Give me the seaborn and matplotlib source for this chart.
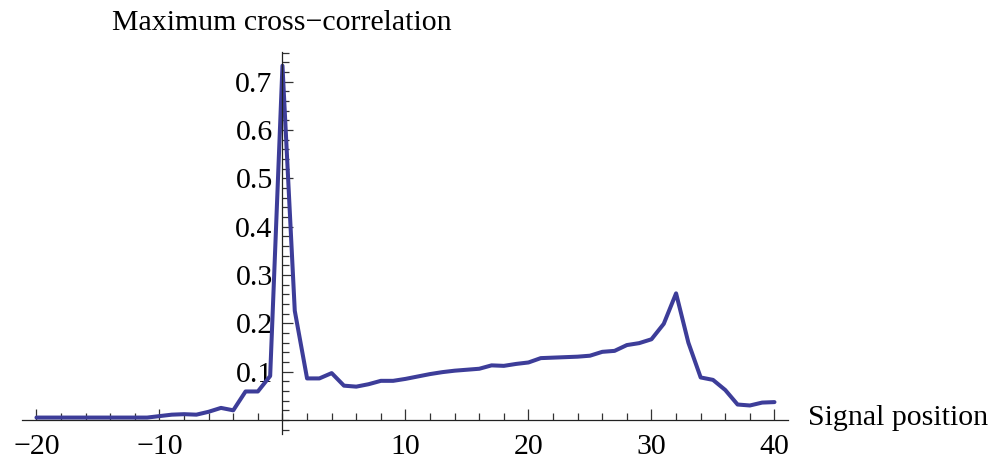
import matplotlib
matplotlib.use('Agg')

import matplotlib.pyplot as plt
import matplotlib.ticker as mticker
import pandas as pd
import seaborn as sns

# signal positions and the maximum cross-correlation
positions = list(range(-20, 41))
max_xcorr = [
    0.005, 0.005, 0.005, 0.005, 0.005, 0.005, 0.005, 0.005, 0.005, 0.005,   # -20 .. -11
    0.008, 0.011, 0.012, 0.011, 0.017, 0.025, 0.020, 0.059, 0.059, 0.091,   # -10 .. -1
    0.733, 0.226, 0.086, 0.086, 0.097, 0.071, 0.069, 0.074, 0.081, 0.081,   # 0 .. 9
    0.085, 0.090, 0.095, 0.099, 0.102, 0.104, 0.106, 0.113, 0.112, 0.116,   # 10 .. 19
    0.119, 0.128, 0.129, 0.130, 0.131, 0.133, 0.141, 0.143, 0.155, 0.159,   # 20 .. 29
    0.167, 0.199, 0.262, 0.160, 0.088, 0.083, 0.062, 0.032, 0.030, 0.036,   # 30 .. 39
    0.037,                                                                  # 40
]
x_ticks = [-20, -10, 10, 20, 30, 40]
y_ticks = [0.1, 0.2, 0.3, 0.4, 0.5, 0.6, 0.7]

df = pd.DataFrame({"position": positions, "xcorr": max_xcorr})

sns.set_style("white")
plt.rcParams['font.family'] = ['Liberation Serif', 'DejaVu Serif']
plt.rcParams['text.color'] = 'black'
plt.rcParams['axes.labelcolor'] = 'black'

fig = plt.figure(figsize=(9.95, 4.59), dpi=100)
ax = fig.add_axes([21.7 / 995, 25 / 459, 766.3 / 995, 382.3 / 459])

sns.lineplot(data=df, x="position", y="xcorr", color="#3d3d99", linewidth=2.9, ax=ax)

ax.set_xlim(-21.2, 41.1)
ax.set_ylim(-0.029, 0.762)

# Mathematica-style axes crossing at the origin
for side in ("top", "right"):
    ax.spines[side].set_visible(False)
ax.spines["left"].set_position(("data", 0))
ax.spines["bottom"].set_position(("data", 0))
for side in ("left", "bottom"):
    ax.spines[side].set_color("#222222")
    ax.spines[side].set_linewidth(0.9)

ax.xaxis.set_major_locator(mticker.FixedLocator(x_ticks))
ax.xaxis.set_minor_locator(mticker.MultipleLocator(2))
ax.yaxis.set_major_locator(mticker.FixedLocator(y_ticks))
ax.yaxis.set_minor_locator(mticker.MultipleLocator(0.02))
ax.xaxis.set_major_formatter(mticker.FuncFormatter(lambda v, p: f"{v:.0f}".replace("-", "\u2212")))
ax.yaxis.set_major_formatter(mticker.FuncFormatter(lambda v, p: f"{v:.1f}"))

ax.tick_params(axis="both", which="both", direction="in", color="#333333", width=0.9,
               labelsize=21.5, labelcolor="black", bottom=True, left=True)
ax.tick_params(axis="both", which="major", length=8)
ax.tick_params(axis="both", which="minor", length=5)
ax.tick_params(axis="x", which="major", pad=10)
ax.tick_params(axis="y", which="major", pad=7)

ax.set_xlabel("Signal position", fontsize=21.5, ha="left", va="center", color="black")
ax.xaxis.set_label_coords(1.026, 0.042)
ax.set_ylabel("Maximum cross\u2212correlation", fontsize=21.5, rotation=0,
              ha="center", va="center", color="black")
ax.yaxis.set_label_coords(0.340, 1.074)

fig.savefig("out.png", dpi=100, facecolor="white")
plt.close(fig)
